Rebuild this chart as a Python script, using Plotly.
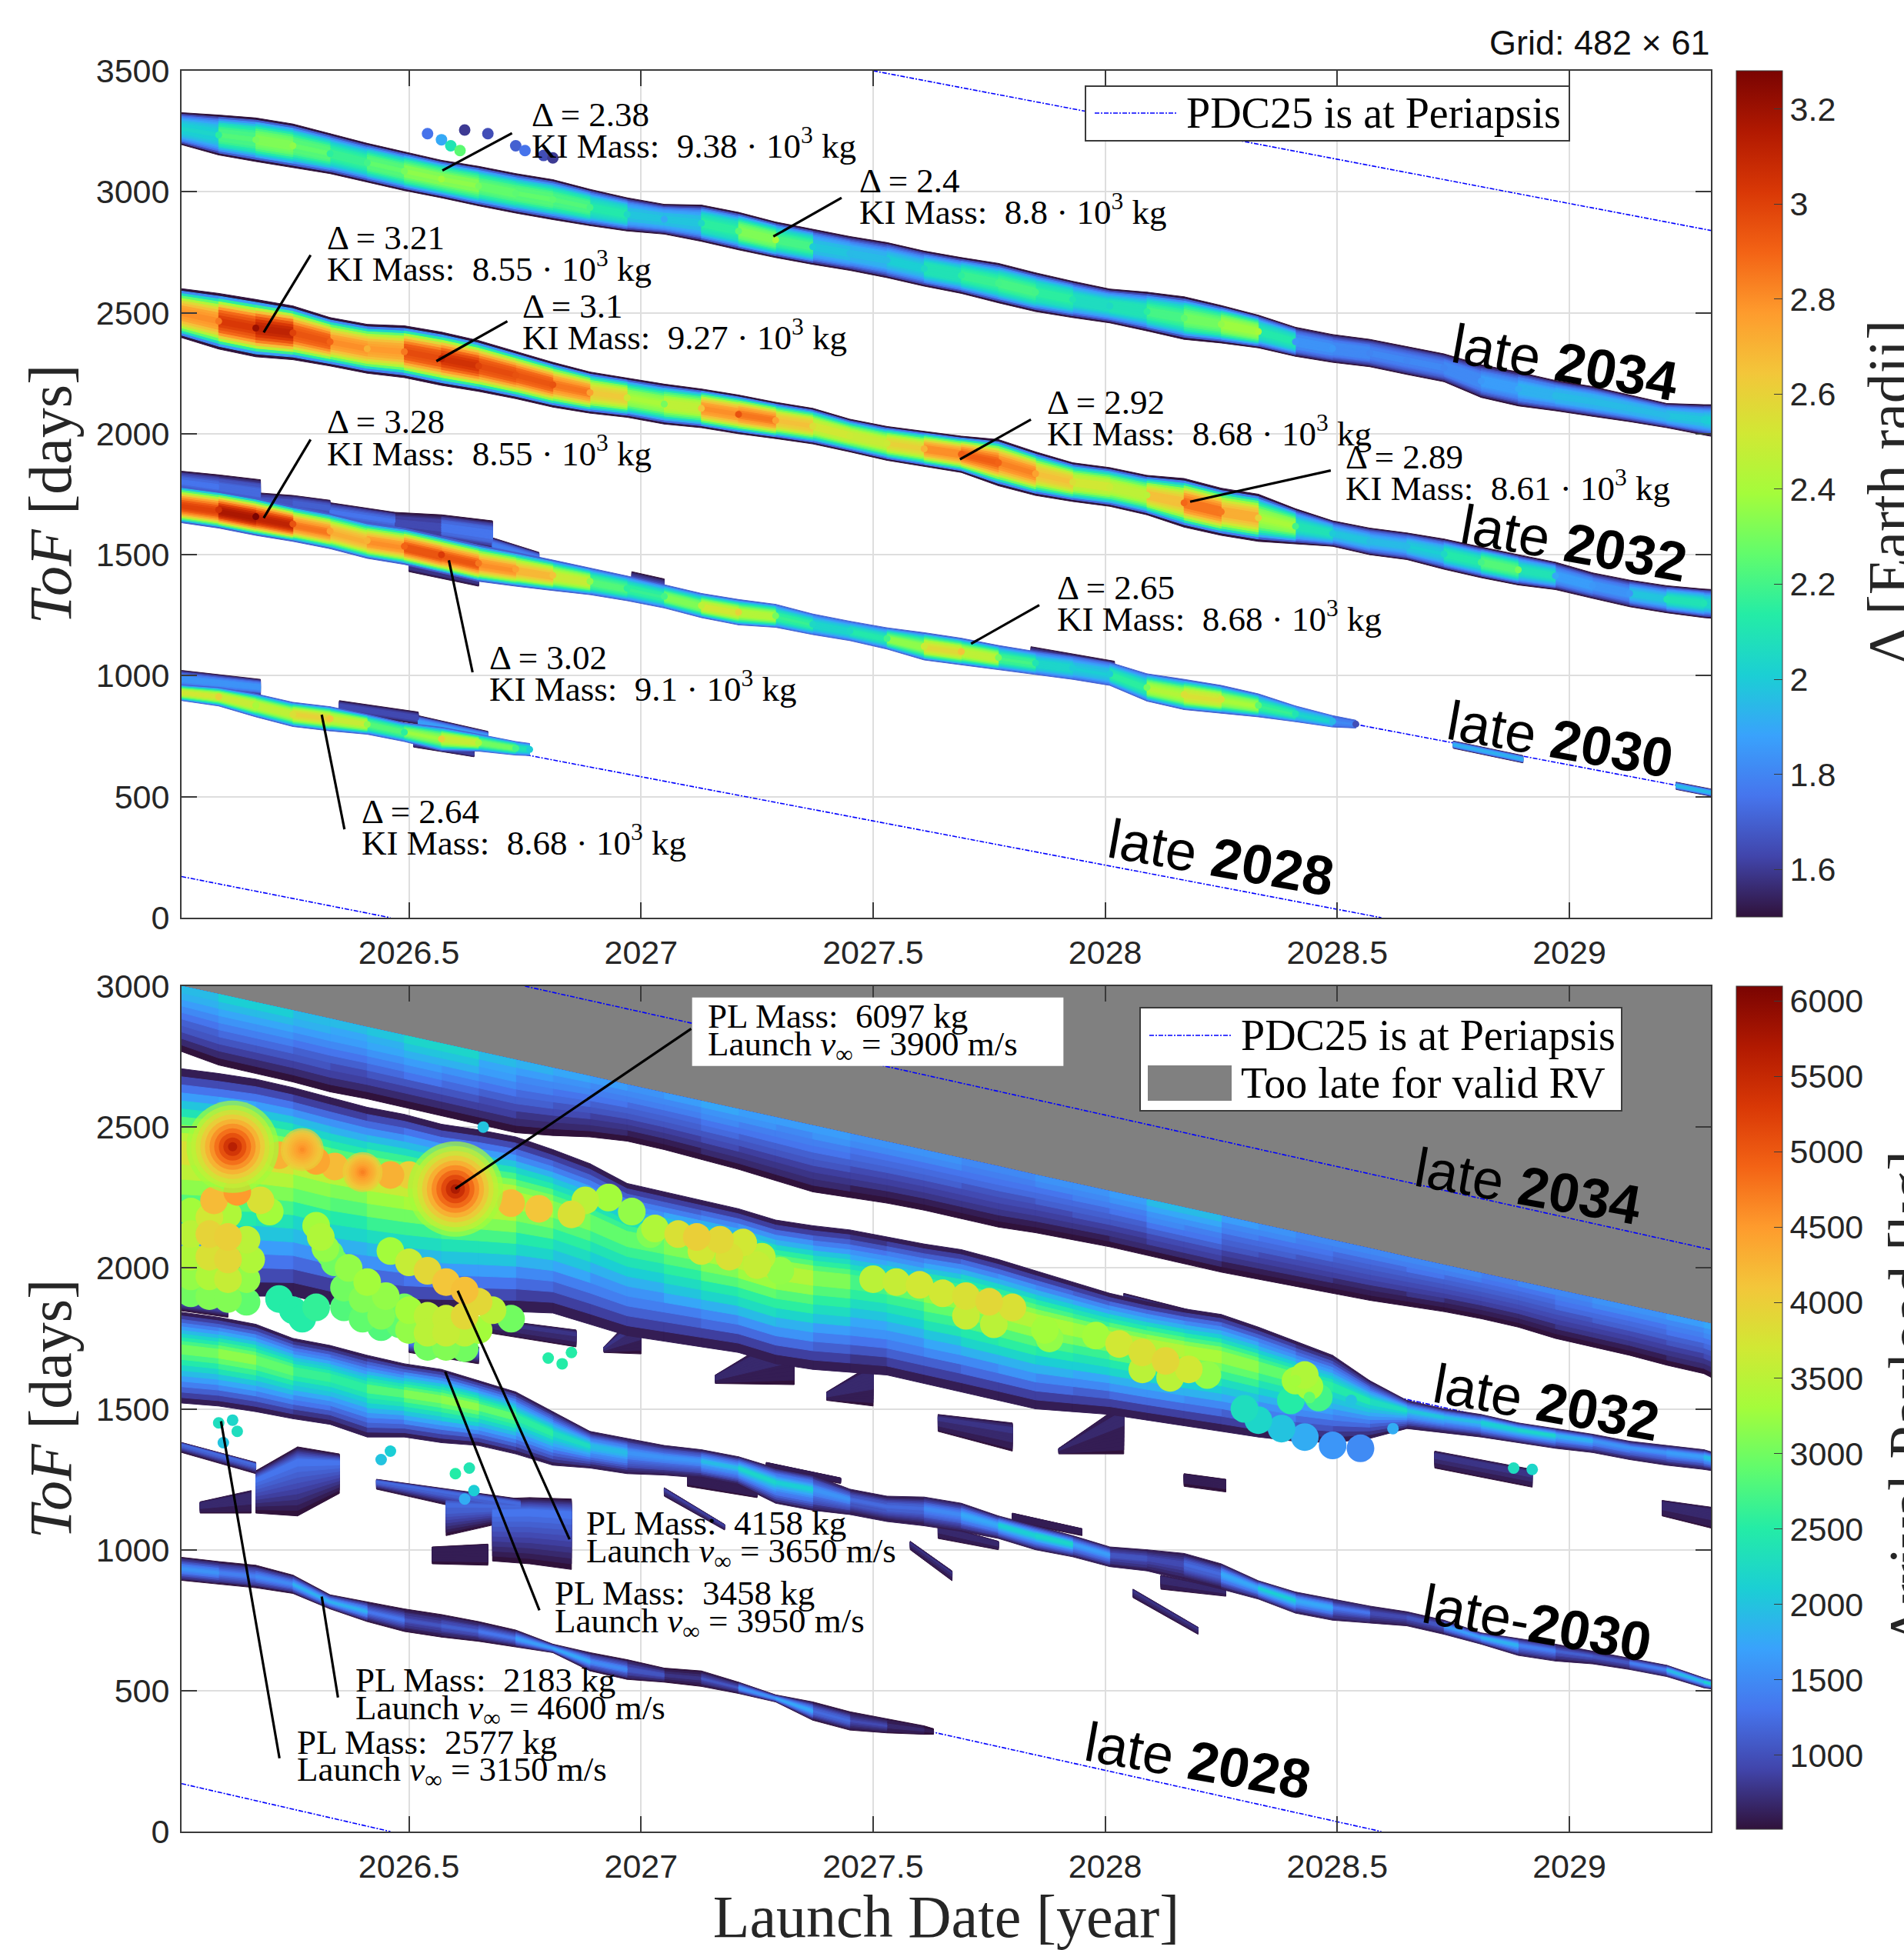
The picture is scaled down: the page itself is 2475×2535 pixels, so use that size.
import plotly.graph_objects as go
from plotly.colors import sample_colorscale

W, H = 2475, 2535
SERIF = "Liberation Serif"
SANS = "Liberation Sans"

GRID_X = [2026.00,2026.09,2026.17,2026.25,2026.33,2026.41,2026.49,2026.57,2026.65,2026.73,
          2026.81,2026.89,2026.97,2027.05,2027.13,2027.21,2027.29,2027.37,2027.45,2027.53,
          2027.61,2027.69,2027.77,2027.85,2027.93,2028.01,2028.09,2028.17,2028.25,2028.33,
          2028.41,2028.49,2028.57,2028.65,2028.73,2028.81,2028.89,2028.97,2029.05,2029.13,
          2029.21,2029.29,2029.31]

# ---------- top panel: Delta [Earth radii] ----------
T34_TOP = [3328,3317,3305,3280,3240,3200,3165,3130,3105,3075,3050,3010,2975,2948,2945,2915,2875,2845,2815,2790,
           2755,2728,2704,2665,2630,2598,2585,2566,2530,2490,2440,2410,2390,2360,2330,2285,2255,2220,2195,2160,
           2125,2120,2120]
T34_BOT = [3200,3152,3125,3100,3075,3040,3005,2975,2942,2912,2885,2860,2838,2825,2795,2760,2728,2700,2675,2645,
           2610,2580,2541,2505,2480,2458,2425,2390,2375,2355,2320,2295,2277,2245,2215,2150,2115,2095,2072,2050,
           2025,1995,1988]
T34_VAL = [1.9,2.15,2.3,2.35,2.15,2.2,2.3,2.38,2.3,2.25,2.25,2.2,2.05,1.9,2.05,2.25,2.4,2.0,1.95,1.95,
           2.05,2.15,2.2,2.2,2.1,2.05,2.15,2.25,2.35,2.4,1.85,1.85,1.8,1.8,1.8,1.85,1.9,1.95,1.95,1.95,
           1.95,2.0,2.0]

T32_TOP = [2602,2580,2555,2528,2480,2452,2446,2420,2385,2340,2295,2255,2230,2205,2185,2160,2130,2105,2060,2030,
           2010,1990,1976,1925,1880,1860,1828,1815,1775,1750,1690,1640,1610,1590,1565,1532,1500,1469,1425,1395,
           1372,1358,1356]
T32_BOT = [2403,2350,2318,2306,2280,2250,2232,2200,2175,2145,2110,2085,2068,2040,2025,2000,1980,1958,1925,1890,
           1865,1840,1785,1745,1720,1700,1665,1614,1580,1555,1545,1535,1500,1480,1440,1405,1375,1356,1320,1285,
           1260,1240,1237]
T32_VAL = [2.75,2.85,3.21,3.0,2.9,2.7,2.85,3.1,3.0,2.95,2.95,2.75,2.5,2.3,2.65,2.95,2.75,2.55,2.5,2.5,
           2.7,2.92,2.9,2.75,2.55,2.5,2.45,2.89,2.85,2.6,2.2,2.0,1.95,1.95,2.05,2.2,2.3,1.9,1.85,1.85,
           2.1,2.1,2.0]

T30_X = GRID_X[:32] + [2028.54]
T30_TOP = [1785,1762,1735,1699,1670,1632,1610,1575,1540,1510,1478,1445,1412,1376,1340,1315,1295,1255,1225,1198,
           1178,1155,1125,1100,1080,1055,1008,985,960,925,875,835,816]
T30_BOT = [1635,1610,1580,1555,1525,1485,1460,1425,1390,1370,1352,1335,1310,1280,1240,1210,1200,1170,1145,1110,
           1065,1045,1025,1005,985,960,895,860,845,830,810,788,784]
T30_VAL = [2.95,3.05,3.28,2.95,2.75,2.7,2.9,3.02,2.85,2.75,2.65,2.35,2.15,2.2,2.45,2.6,2.3,2.05,2.05,2.2,
           2.5,2.65,2.3,2.1,2.0,2.0,2.3,2.55,2.55,2.25,2.1,1.95,1.65]

T28_X = [2026.00,2026.09,2026.17,2026.25,2026.33,2026.41,2026.49,2026.57,2026.65,2026.73,2026.76]
T28_TOP = [963,951,925,890,872,840,805,787,758,728,720]
T28_BOT = [900,875,830,790,772,758,728,690,688,672,670]
T28_VAL = [2.45,2.6,2.4,2.55,2.64,2.35,2.15,2.6,2.4,2.2,2.0]

TOP_PATCHES = [  # x, upper ToF, lower ToF, value
    ([2026.0,2026.09,2026.18],[1847,1830,1810],[1760,1730,1700],[1.75,1.75,1.7]),
    ([2026.18,2026.25,2026.33],[1755,1745,1725],[1690,1680,1660],[1.65,1.7,1.7]),
    ([2026.33,2026.47],[1715,1675],[1640,1600],[1.75,1.75]),
    ([2026.47,2026.57,2026.68],[1675,1665,1640],[1590,1560,1525],[1.6,1.68,1.85]),
    ([2026.68,2026.78],[1570,1510],[1510,1460],[1.8,1.75]),
    ([2026.5,2026.65],[1480,1420],[1430,1370],[1.6,1.6]),
    ([2026.98,2027.05],[1430,1400],[1330,1300],[1.7,1.7]),
    ([2027.84,2028.02],[1120,1060],[1040,985],[1.72,1.72]),
    ([2026.0,2026.18],[1024,985],[951,920],[1.85,1.85]),
    ([2026.35,2026.52],[897,850],[850,800],[1.62,1.68]),
    ([2026.52,2026.67],[835,770],[775,725],[1.9,1.85]),
    ([2026.51,2026.64],[735,690],[705,665],[1.62,1.62]),
    ([2028.75,2028.9],[730,670],[700,640],[1.9,1.95]),
    ([2029.23,2029.31],[560,530],[530,500],[1.9,2.0]),
]
TOP_SPECK_X = [2026.54,2026.57,2026.59,2026.61,2026.62,2026.67,2026.73,2026.75,2026.79,2026.81]
TOP_SPECK_Y = [3240,3215,3190,3170,3255,3240,3190,3170,3150,3140]
TOP_SPECK_V = [1.75,1.9,2.1,2.25,1.6,1.65,1.7,1.75,1.65,1.6]

# ---------- bottom panel: arrival payload [kg] ----------
B34_TOP = [3003,2971,2942,2913,2884,2854,2825,2796,2767,2738,2709,2680,2650,2621,2592,2563,2534,2505,2476,2447,
           2418,2389,2360,2330,2301,2272,2243,2214,2185,2156,2127,2098,2069,2039,2010,1981,1952,1923,1894,1865,
           1836,1807,1800]
B34_BOT = [2774,2720,2690,2660,2625,2600,2570,2540,2510,2480,2470,2465,2450,2420,2385,2350,2310,2270,2250,2230,
           2205,2175,2145,2125,2100,2075,2045,2015,1985,1960,1935,1910,1885,1865,1845,1820,1790,1750,1720,1690,
           1655,1625,1608]
B34_VAL = [2000,2250,2400,2200,2050,2150,2300,2500,2200,2000,1900,1800,1750,1700,1800,1900,1700,1850,1750,1650,
           1700,1650,1600,1650,1700,1750,1850,2300,1800,1700,1650,1600,1550,1600,1600,1550,1500,1600,1650,1700,
           1700,1850,1900]

B32_TOP = [2709,2690,2670,2640,2605,2570,2545,2510,2490,2465,2420,2370,2300,2270,2240,2210,2170,2150,2135,2110,
           2085,2065,2030,1990,1950,1910,1880,1855,1835,1790,1740,1690,1600,1530,1500,1480,1450,1430,1410,1385,
           1370,1355,1345]
B32_BOT = [1890,1890,1900,1900,1870,1860,1846,1845,1845,1845,1840,1800,1760,1740,1720,1700,1660,1640,1630,1620,
           1590,1560,1530,1500,1490,1480,1460,1440,1420,1400,1385,1380,1395,1430,1415,1400,1380,1360,1345,1320,
           1300,1285,1280]
B32_VAL = [4000,4300,4200,4000,3600,3800,4000,3900,4300,3800,3500,3200,3000,3200,3500,3800,3900,3600,3000,2900,
           3300,3600,3700,3800,3400,3600,3800,3700,3500,3300,2900,2600,2600,2300,2000,2100,2500,2200,1800,1600,
           1700,1900,2300]

B30_TOP = [1845,1825,1800,1750,1725,1690,1660,1640,1600,1560,1490,1420,1395,1370,1355,1330,1290,1265,1215,1190,
           1187,1165,1120,1085,1050,1010,1000,987,950,890,850,825,800,780,750,705,685,665,640,615,
           590,545,535]
B30_BOT = [1522,1510,1490,1465,1445,1400,1400,1380,1370,1340,1300,1290,1270,1265,1255,1230,1165,1140,1125,1100,
           1085,1065,1040,1000,975,940,925,893,860,825,775,750,740,730,700,665,625,605,595,575,
           550,510,505]
B30_VAL = [3000,3400,3300,3000,2600,2800,3200,3458,3300,2900,2500,2300,1800,1500,1800,2200,2400,2000,1300,1200,
           1400,1700,2100,2450,2300,1300,900,1100,1500,2300,2200,1600,1100,900,1300,2200,1700,1300,1000,1200,
           1700,2400,2200]

B28_X = [2026.00,2026.09,2026.17,2026.25,2026.33,2026.41,2026.49,2026.57,2026.65,2026.73,2026.81,
         2026.89,2026.97,2027.05,2027.13,2027.21,2027.29,2027.37,2027.45,2027.53,2027.61,2027.63]
B28_TOP = [975,958,945,910,840,815,790,770,745,715,665,635,610,580,570,530,485,460,425,400,375,365]
B28_BOT = [893,878,865,845,790,745,710,690,675,655,635,570,540,530,515,490,460,395,360,350,345,345]
B28_VAL = [1900,1500,1500,1700,2183,1700,1100,1000,1300,1500,2100,1600,1500,700,900,1200,2200,1500,1100,800,600,550]

BOTTOM_PATCHES = [
    ([2026.92,2027.0],[1720,1855],[1700,1695],[800,800]),
    ([2027.16,2027.33],[1620,1790],[1590,1586],[750,750]),
    ([2027.4,2027.5],[1560,1660],[1530,1510],[700,800]),
    ([2027.64,2027.8],[1480,1450],[1420,1350],[800,800]),
    ([2027.9,2028.04],[1360,1520],[1340,1340],[700,700]),
    ([2028.04,2028.28],[1910,1810],[1830,1760],[1000,1000]),
    ([2028.34,2028.57],[1750,1600],[1690,1550],[900,900]),
    ([2028.71,2028.92],[1350,1285],[1290,1222],[850,800]),
    ([2029.2,2029.31],[1175,1150],[1120,1075],[750,750]),
    ([2027.8,2027.95],[1130,1075],[1100,1050],[650,650]),
    ([2028.06,2028.2],[860,725],[830,700],[850,750]),
    ([2028.12,2028.26],[910,860],[860,835],[750,750]),
    ([2027.64,2027.77],[1090,1030],[1040,1000],[750,750]),
    ([2027.05,2027.18],[1220,1090],[1190,1070],[1000,800]),
    ([2027.1,2027.25],[1270,1215],[1225,1185],[650,650]),
    ([2027.27,2027.43],[1310,1255],[1285,1235],[650,650]),
    ([2027.58,2027.67],[1030,925],[1000,890],[850,700]),
    ([2028.17,2028.26],[1270,1250],[1225,1205],[600,600]),
    ([2026.0,2026.17],[1385,1310],[1350,1270],[1350,1300]),
    ([2026.05,2026.16],[1170,1210],[1130,1130],[750,750]),
    ([2026.17,2026.26,2026.35],[1280,1365,1340],[1130,1120,1200],[1300,1400,1300]),
    ([2026.43,2026.74],[1250,1180],[1215,1100],[1300,1350]),
    ([2026.58,2026.74],[1190,1165],[1050,1110],[1300,1350]),
    ([2026.68,2026.76,2026.85],[1180,1185,1180],[960,950,930],[1300,1400,1300]),
    ([2026.55,2026.67],[1010,1020],[950,945],[650,650]),
    ([2026.0,2026.11],[1910,1880],[1850,1825],[1250,1250]),
    ([2026.5,2026.65],[1740,1720],[1700,1660],[1400,1400]),
    ([2026.67,2026.86],[1820,1780],[1770,1720],[800,800]),
]
# individual simulated points of the payload clouds
CLOUD_X = [2026.03,2026.07,2026.11,2026.03,2026.07,2026.11,2026.15,2026.03,2026.07,2026.11,2026.16,2026.03,2026.07,2026.11,2026.15,
           2026.03,2026.07,2026.11,2026.15,2026.08,2026.13,2026.18,2026.20,2026.33,2026.37,2026.41,2026.45,2026.49,
           2026.36,2026.36,2026.40,2026.40,2026.44,2026.44,2026.48,2026.46,2026.50,2026.54,2026.58,2026.62,2026.65,2026.68,2026.72,
           2026.50,2026.54,2026.58,2026.62,2026.50,2026.54,2026.58,2026.62,2026.65,2026.54,2026.58,2026.62,
           2026.22,2026.25,2026.30,2026.27,2026.30,2026.31,2026.32,2026.34,
           2026.88,2026.93,2026.98,2027.02,2027.03,2027.08,2027.12,2027.17,2027.22,2027.26,2027.13,2027.19,2027.25,2027.30,
           2027.50,2027.55,2027.60,2027.65,2027.70,2027.75,2027.80,2027.70,2027.76,2027.87,2027.88,
           2027.98,2028.03,2028.08,2028.13,2028.18,2028.22,2028.08,2028.14,
           2028.41,2028.43,2028.44,2028.46,2028.40,2028.30,2028.33,2028.38,2028.43,2028.49,2028.55,
           2026.22,2026.30,2026.34,2026.46,2026.50,2026.72,2026.78,2026.85]
CLOUD_Y = [2200,2180,2190,2120,2120,2110,2100,2040,2040,2030,2030,1970,1970,1960,1960,
           1910,1900,1890,1880,2240,2270,2240,2200,2050,2000,1950,1900,1860,
           1930,1860,1890,1820,1830,1790,1800,2060,2020,1990,1950,1920,1880,1850,1820,
           1850,1830,1820,1830,1780,1770,1770,1770,1780,1720,1720,1715,
           1890,1850,1860,1820,2150,2110,2070,2020,
           2240,2250,2200,2120,2140,2120,2110,2100,2090,2040,2060,2040,2010,1990,
           1960,1950,1940,1910,1900,1880,1860,1830,1800,1780,1750,
           1760,1730,1700,1670,1640,1620,1640,1610,
           1600,1620,1580,1540,1530,1500,1460,1430,1400,1370,1360,
           2400,2380,2360,2330,2330,2230,2210,2190]
CLOUD_V = [3300,3700,3400,3500,3950,4000,3500,3400,3800,3900,3400,3200,3400,3600,3200,
           3000,3100,3100,2900,4200,4500,3800,3300,3000,3200,3300,3200,3000,
           3000,2800,3100,2900,3100,2800,2900,3300,3600,3900,4100,4158,3900,3500,3000,
           3300,3500,3600,3900,3200,3500,3600,3500,3300,3000,3100,3000,
           2500,2500,2600,2500,3300,3400,3200,3000,
           3500,3300,3200,3100,3400,3800,4000,3900,3700,3500,3700,3800,3600,3200,
           3500,3600,3700,3700,3800,3900,3800,3600,3500,3300,3200,
           3300,3700,3800,3900,3700,3200,3500,3500,
           3300,3400,3300,2700,2500,2300,2200,2000,1800,1600,1500,
           4300,4400,4200,4300,4000,4200,4100,3800]
BLOB_X = [2026.27,2026.40,2026.12,2026.60]
BLOB_Y = [2420,2340,2430,2280]
BLOB_PEAK = [4700,4800,6000,6097]
BLOB_BASE = [4000,4000,3300,3300]
BLOB_R = [28,26,60,62]
BOT_SPECK_X = [2026.09,2026.12,2026.13,2026.1,2026.44,2026.46,2026.6,2026.63,2026.64,2026.62,2026.8,2026.83,
               2028.41,2028.44,2028.88,2028.92,2026.85,2028.53,2026.66,2028.62]
BOT_SPECK_Y = [1450,1460,1420,1380,1320,1350,1270,1290,1210,1180,1680,1660,1600,1540,1290,1285,1700,1530,2500,1430]
BOT_SPECK_V = [2300,2200,2300,2000,2000,2100,2500,2400,2100,1800,2500,2500,3300,2900,2300,2200,2500,2000,2000,1800]

# periapsis lines (launch date, ToF) end points
PERI_TOP = [([2026.01,2026.46],[170,0]),([2026.01,2028.595],[944,0]),([2026.01,2029.305],[1721,520]),
            ([2026.01,2029.305],[2495,1295]),([2026.01,2029.305],[3270,2065]),([2027.5,2029.305],[3500,2840])]
PERI_BOT = [([2026.01,2026.46],[170,0]),([2026.01,2028.595],[944,0]),([2026.01,2029.305],[1721,520]),
            ([2026.01,2029.305],[2495,1295]),([2026.75,2029.305],[3000,2065])]
TOO_LATE_X = [2026.01,2029.305,2029.305,2026.01]
TOO_LATE_Y = [3000,1800,3000,3000]

# notes: text line 1, text line 2, text x, text y, leader line x0,y0,x1,y1
KI = "KI Mass:\u00a0 {} · 10<sup>3</sup> kg"
TOP_NOTES = [
    ("2.38","9.38",2026.76,3258,2026.572,3088,2026.722,3242),
    ("2.4","8.8",2027.467,2985,2027.285,2815,2027.432,2975),
    ("3.21","8.55",2026.32,2748,2026.187,2419,2026.288,2738),
    ("3.1","9.27",2026.741,2465,2026.559,2300,2026.712,2465),
    ("3.28","8.55",2026.32,1987,2026.187,1652,2026.288,1976),
    ("3.02","9.1",2026.669,1014,2026.586,1477,2026.637,1014),
    ("2.64","8.68",2026.395,376,2026.312,839,2026.361,365),
    ("2.92","8.68",2027.872,2069,2027.687,1894,2027.84,2059),
    ("2.89","8.61",2028.515,1842,2028.183,1719,2028.486,1848),
    ("2.65","8.68",2027.893,1302,2027.711,1132,2027.858,1292),
]
BOT_NOTES = [
    ("6097","3900",2027.14,2841,2026.60,2281,2027.108,2849),
    ("4158","3650",2026.878,1041,2026.605,1919,2026.846,1037),
    ("3458","3950",2026.811,794,2026.578,1632,2026.781,785),
    ("2183","4600",2026.382,485,2026.312,834,2026.347,476),
    ("2577","3150",2026.256,265,2026.095,1456,2026.221,260),
]
TOP_LATE = [("late <b>2034</b>",2028.99,2295),("late <b>2032</b>",2029.01,1549),
            ("late <b>2030</b>",2028.98,736),("late <b>2028</b>",2028.25,247)]
BOT_LATE = [("late <b>2034</b>",2028.91,2289),("late <b>2032</b>",2028.95,1522),
            ("late-<b>2030</b>",2028.93,741),("late <b>2028</b>",2028.20,251)]

X_TICKS = [2026.5,2027,2027.5,2028,2028.5,2029]
X_TEXT = ["2026.5","2027","2027.5","2028","2028.5","2029"]
TOP_Y_TICKS = [0,500,1000,1500,2000,2500,3000,3500]
BOT_Y_TICKS = [0,500,1000,1500,2000,2500,3000]
TOP_C_TICKS = [1.6,1.8,2,2.2,2.4,2.6,2.8,3,3.2]
TOP_C_TEXT = ["1.6","1.8","2","2.2","2.4","2.6","2.8","3","3.2"]
BOT_C_TICKS = [1000,1500,2000,2500,3000,3500,4000,4500,5000,5500,6000]
TOP_RANGE = (1.5,3.28)
BOT_RANGE = (510,6097)

# ---------- drawing helpers ----------
FRACS = [1,.9,.8,.7,.6,.5,.4,.3,.2,.1]
NBINS = 64
buckets = {}

def add_band(panel, group, x, top, bot, val, edge, c=.5, p=1.3):
    lo, hi = TOP_RANGE if panel == 1 else BOT_RANGE
    for li, f in enumerate(FRACS):
        for i in range(len(x)-1):
            v = .5*(val[i]+val[i+1])
            v = v-(max(v-edge,0))*f**p
            b = round(min(max((v-lo)/(hi-lo),0),1)*(NBINS-1))
            cy0 = top[i]+(bot[i]-top[i])*c
            cy1 = top[i+1]+(bot[i+1]-top[i+1])*c
            t0, t1 = cy0+f*(top[i]-cy0), cy1+f*(top[i+1]-cy1)
            b0, b1 = cy0+f*(bot[i]-cy0), cy1+f*(bot[i+1]-cy1)
            d = buckets.setdefault((panel,group,li,b),([],[]))
            d[0].extend([x[i],x[i+1],x[i+1],x[i],x[i],None])
            d[1].extend([t0,t1,b1,b0,t0,None])

for x,t,b,v in TOP_PATCHES:
    add_band(1,0,x,t,b,v,1.5,.5,2.4)
add_band(1,1,GRID_X,T34_TOP,T34_BOT,T34_VAL,1.5,.5,2.8)
add_band(1,1,GRID_X,T32_TOP,T32_BOT,T32_VAL,1.5,.5,2.5)
add_band(1,1,T30_X,T30_TOP,T30_BOT,T30_VAL,1.7,.55,2.3)
add_band(1,1,T28_X,T28_TOP,T28_BOT,T28_VAL,1.7,.5,2.3)

add_band(2,0,GRID_X,B34_TOP,B34_BOT,B34_VAL,520,0,1.0)
for x,t,b,v in BOTTOM_PATCHES:
    add_band(2,1,x,t,b,v,540,.2,1.0)
add_band(2,2,GRID_X,B32_TOP,B32_BOT,B32_VAL,560,.35,1.05)
add_band(2,3,GRID_X,B30_TOP,B30_BOT,B30_VAL,560,.4,1.1)
add_band(2,3,B28_X,B28_TOP,B28_BOT,B28_VAL,520,.5,1.1)

fig = go.Figure()
XA = {1:"x",2:"x2"}; YA = {1:"y",2:"y2"}
CA = {1:"coloraxis",2:"coloraxis2"}

# grey region
fig.add_trace(go.Scatter(x=TOO_LATE_X,y=TOO_LATE_Y,xaxis="x2",yaxis="y2",fill="toself",mode="lines",
    fillcolor="#808080",line=dict(color="#808080",width=0),name="Too late for valid RV",
    showlegend=False,hoverinfo="skip"))

def peri(lines,p):
    for x,y in lines:
        fig.add_trace(go.Scatter(x=x,y=y,xaxis=XA[p],yaxis=YA[p],mode="lines",
            line=dict(color="#0000ff",width=1.6,dash="6px,2px,2px,2px"),name="PDC25 is at Periapsis",
            showlegend=False,hoverinfo="skip"))
peri(PERI_TOP,1)
peri(PERI_BOT,2)

for key in sorted(buckets):
    panel,group,li,b = key
    xs,ys = buckets[key]
    col = sample_colorscale("Turbo",[b/(NBINS-1)])[0]
    fig.add_trace(go.Scatter(x=xs,y=ys,xaxis=XA[panel],yaxis=YA[panel],mode="lines",fill="toself",
        fillcolor=col,line=dict(color=col,width=1),showlegend=False,hoverinfo="skip"))

# value-coloured points (carry the colour bars)
def core_points(x,top,bot,val,p,size=9):
    fig.add_trace(go.Scatter(x=x,y=[.5*(a+b) for a,b in zip(top,bot,strict=True)],xaxis=XA[p],yaxis=YA[p],
        mode="markers",marker=dict(color=val,coloraxis=CA[p],size=size,line=dict(width=0)),
        showlegend=False,hoverinfo="skip",cliponaxis=False))
core_points(GRID_X,T34_TOP,T34_BOT,T34_VAL,1)
core_points(GRID_X,T32_TOP,T32_BOT,T32_VAL,1)
core_points(T30_X,T30_TOP,T30_BOT,T30_VAL,1)
core_points(T28_X,T28_TOP,T28_BOT,T28_VAL,1)
fig.add_trace(go.Scatter(x=TOP_SPECK_X,y=TOP_SPECK_Y,mode="markers",
    marker=dict(color=TOP_SPECK_V,coloraxis="coloraxis",size=15),showlegend=False,hoverinfo="skip"))

order = sorted(range(len(CLOUD_X)),key=lambda i:CLOUD_V[i])
fig.add_trace(go.Scatter(x=[CLOUD_X[i] for i in order],y=[CLOUD_Y[i] for i in order],xaxis="x2",yaxis="y2",mode="markers",
    marker=dict(color=[CLOUD_V[i] for i in order],coloraxis="coloraxis2",size=36,line=dict(width=0)),
    showlegend=False,hoverinfo="skip"))
bx,by,bc,bs = [],[],[],[]
for x,y,pk,ba,r in zip(BLOB_X,BLOB_Y,BLOB_PEAK,BLOB_BASE,BLOB_R,strict=True):
    for f in FRACS:
        bx.append(x); by.append(y); bc.append(pk-(pk-ba)*f); bs.append(2*r*f)
fig.add_trace(go.Scatter(x=bx,y=by,xaxis="x2",yaxis="y2",mode="markers",
    marker=dict(color=bc,coloraxis="coloraxis2",size=bs,line=dict(width=0)),showlegend=False,hoverinfo="skip"))
fig.add_trace(go.Scatter(x=BOT_SPECK_X,y=BOT_SPECK_Y,xaxis="x2",yaxis="y2",mode="markers",
    marker=dict(color=BOT_SPECK_V,coloraxis="coloraxis2",size=15),showlegend=False,hoverinfo="skip"))

# leader lines and notes
annotations = []
TXT = dict(font=dict(family=SERIF,size=45,color="black"),showarrow=False,xanchor="left",yanchor="middle")
def leaders(notes,p):
    xs,ys = [],[]
    for n in notes:
        xs += [n[4],n[6],None]; ys += [n[5],n[7],None]
    fig.add_trace(go.Scatter(x=xs,y=ys,xaxis=XA[p],yaxis=YA[p],mode="lines",
        line=dict(color="black",width=3.2),showlegend=False,hoverinfo="skip"))
leaders(TOP_NOTES,1); leaders(BOT_NOTES,2)
for n in TOP_NOTES:
    annotations.append(dict(text=f"Δ = {n[0]}",x=n[2],y=n[3]+62,xref="x",yref="y",**TXT))
    annotations.append(dict(text=KI.format(n[1]),x=n[2],y=n[3]-58,xref="x",yref="y",**TXT))
for n in BOT_NOTES:
    annotations.append(dict(text=f"PL Mass:\u00a0 {n[0]} kg",x=n[2],y=n[3]+53,xref="x2",yref="y2",**TXT))
    annotations.append(dict(text=f"Launch <i>v</i><sub>∞</sub> = {n[1]} m/s",x=n[2],y=n[3]-53,xref="x2",yref="y2",**TXT))
LATE = dict(font=dict(family=SANS,size=72,color="black"),showarrow=False,textangle=10)
for t,x,y in TOP_LATE:
    annotations.append(dict(text=t,x=x,y=y,xref="x",yref="y",**LATE))
for t,x,y in BOT_LATE:
    annotations.append(dict(text=t,x=x,y=y,xref="x2",yref="y2",**LATE))
annotations.append(dict(text="Grid: 482 × 61",x=2224/W,y=1-55/H,xref="paper",yref="paper",xanchor="right",
    yanchor="middle",showarrow=False,font=dict(family=SANS,size=45,color="#111")))

# legends (boxes laid out to the reference's sizes)
LEG = dict(xref="paper",yref="paper",xanchor="left",yanchor="middle",showarrow=False,
           font=dict(family=SERIF,size=56,color="black"))
def px(xp): return xp/W
def py(yp): return 1-yp/H
shapes = [dict(type="rect",xref="x2",yref="y2",x0=2027.11,x1=2027.91,y0=2717,y1=2960,
               fillcolor="white",line=dict(width=0))]
def legend(x0,x1,y0,y1,rows):
    shapes.append(dict(type="rect",xref="paper",yref="paper",x0=px(x0),x1=px(x1),y0=py(y1),y1=py(y0),
                       fillcolor="white",line=dict(color="#3a3a3a",width=2)))
    for kind,yc,text in rows:
        if kind=="line":
            shapes.append(dict(type="line",xref="paper",yref="paper",x0=px(x0+12),x1=px(x0+120),y0=py(yc),y1=py(yc),
                               line=dict(color="#0000ff",width=1.6,dash="6px,2px,2px,2px")))
        else:
            shapes.append(dict(type="rect",xref="paper",yref="paper",x0=px(x0+10),x1=px(x0+119),y0=py(yc+23),y1=py(yc-23),
                               fillcolor="#808080",line=dict(width=0)))
        annotations.append(dict(text=text,x=px(x0+129),y=py(yc),**LEG))
legend(1411,2040,112,183,[("line",147,"PDC25 is at Periapsis")])
legend(1482,2108,1310,1444,[("line",1346,"PDC25 is at Periapsis"),("box",1408,"Too late for valid RV")])

AX = dict(showgrid=True,gridcolor="#dedede",gridwidth=1.5,zeroline=False,showline=True,linecolor="#3a3a3a",
    linewidth=2,mirror="ticks",ticks="inside",ticklen=20,tickcolor="#3a3a3a",tickwidth=2,
    tickfont=dict(family=SANS,size=43,color="#262626"))
XD = [236/W,2224/W]
XR = [2026.01,2029.305]
TITLE = dict(family=SERIF,size=78,color="#262626")
def cbar(y0,y1,**kw):
    return dict(x=2257/W,xanchor="left",xpad=0,ypad=0,y=1-y0/H,yanchor="top",len=(y1-y0)/H,lenmode="fraction",
        thickness=60,thicknessmode="pixels",ticks="inside",ticklen=11,tickcolor="#3a3a3a",
        tickfont=dict(family=SANS,size=43,color="#262626"),outlinecolor="#3a3a3a",outlinewidth=1,**kw)
for text,xleft,yc in [("Δ [Earth radii]",2410,640),("Arrival Payload [kg]",2436,1819)]:
    annotations.append(dict(text=text,x=px(xleft),y=py(yc),xref="paper",yref="paper",xanchor="left",yanchor="middle",
        textangle=-90,showarrow=False,font=TITLE))

fig.update_layout(
    width=W,height=H,margin=dict(l=0,r=0,t=0,b=0,autoexpand=False),paper_bgcolor="white",plot_bgcolor="white",
    showlegend=False,
    xaxis=dict(domain=XD,range=XR,anchor="y",tickvals=X_TICKS,ticktext=X_TEXT,ticklabelstandoff=6,**AX),
    yaxis=dict(domain=[1-1193/H,1-92/H],range=[0,3500],anchor="x",tickvals=TOP_Y_TICKS,ticklabelstandoff=5,
        title=dict(text="<i>ToF</i> [days]",font=TITLE,standoff=6),**AX),
    xaxis2=dict(domain=XD,range=XR,anchor="y2",tickvals=X_TICKS,ticktext=X_TEXT,ticklabelstandoff=6,
        title=dict(text="Launch Date [year]",font=TITLE,standoff=14),**AX),
    yaxis2=dict(domain=[1-2381/H,1-1282/H],range=[0,3000],anchor="x2",tickvals=BOT_Y_TICKS,ticklabelstandoff=5,
        title=dict(text="<i>ToF</i> [days]",font=TITLE,standoff=6),**AX),
    coloraxis=dict(colorscale="Turbo",cmin=TOP_RANGE[0],cmax=TOP_RANGE[1],
        colorbar=cbar(92,1192,tickvals=TOP_C_TICKS,ticktext=TOP_C_TEXT)),
    coloraxis2=dict(colorscale="Turbo",cmin=BOT_RANGE[0],cmax=BOT_RANGE[1],
        colorbar=cbar(1282,2378,tickvals=BOT_C_TICKS)),
    annotations=annotations,
    shapes=shapes,
)
fig.write_html("out.html",post_script="document.body.style.margin='0';",config={"displayModeBar":False})
